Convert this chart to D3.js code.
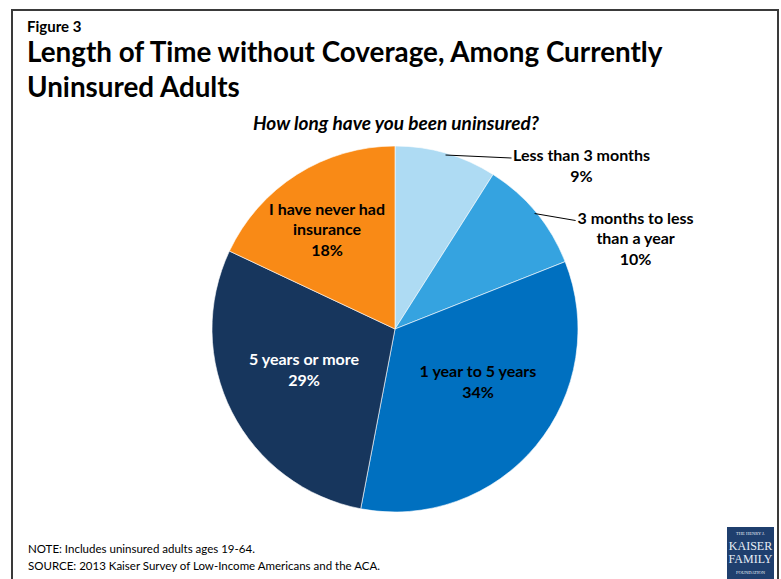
<!DOCTYPE html>
<html>
<head>
<meta charset="utf-8">
<script src="https://cdn.jsdelivr.net/npm/d3@7"></script>
<style>
  html, body { margin: 0; padding: 0; background: #fff; }
  svg { display: block; font-family: Lato, "Open Sans", sans-serif; }
</style>
</head>
<body>
<svg id="chart" width="781" height="579"></svg>
<script>
// Survey answers, clockwise from 12 o'clock
const categories = [
  "Less than 3 months",
  "3 months to less than a year",
  "1 year to 5 years",
  "5 years or more",
  "I have never had insurance"
];
const values = [9, 10, 34, 29, 18];
const colors = ["#AEDBF3", "#35A3E0", "#0070C0", "#17365D", "#F98A16"];
// Label lines as printed (the percentage is appended below them)
const labelLines = [
  ["Less than 3 months"],
  ["3 months to less", "than a year"],
  ["1 year to 5 years"],
  ["5 years or more"],
  ["I have never had", "insurance"]
];

const svg = d3.select("#chart");

// Outer frame
svg.append("rect")
  .attr("x", 12).attr("y", 10)
  .attr("width", 766).attr("height", 580)
  .attr("fill", "none").attr("stroke", "#3a3a3a").attr("stroke-width", 2);

// Headings
svg.append("text").attr("x", 27).attr("y", 32)
  .attr("font-size", 15).attr("font-weight", 700).attr("fill", "#000")
  .text("Figure 3");
svg.append("text").attr("x", 27).attr("y", 62)
  .attr("font-size", 27.8).attr("font-weight", 700).attr("fill", "#000")
  .text("Length of Time without Coverage, Among Currently");
svg.append("text").attr("x", 27).attr("y", 97)
  .attr("font-size", 27.8).attr("font-weight", 700).attr("fill", "#000")
  .text("Uninsured Adults");
svg.append("text").attr("x", 396).attr("y", 130)
  .attr("text-anchor", "middle")
  .attr("font-size", 19).attr("font-weight", 700).attr("font-style", "italic")
  .attr("fill", "#000")
  .text("How long have you been uninsured?");

// Pie
const cx = 395, cy = 329, R = 183;
const data = categories.map((c, i) => ({ cat: c, value: values[i], color: colors[i], lines: labelLines[i], i }));
const pie = d3.pie().sort(null).value(d => d.value);
const arcs = pie(data);
const arc = d3.arc().innerRadius(0).outerRadius(R);

const g = svg.append("g").attr("transform", `translate(${cx},${cy})`);
g.selectAll("path").data(arcs).join("path")
  .attr("d", arc)
  .attr("fill", d => d.data.color)
  .attr("stroke", "#ffffff").attr("stroke-width", 0.6);

const lineH = 20.5;
const labelFont = 16;

function drawLabel(x, y, lines, fill) {
  const t = svg.append("text")
    .attr("text-anchor", "middle")
    .attr("font-size", labelFont).attr("font-weight", 700).attr("fill", fill);
  lines.forEach((s, k) => {
    t.append("tspan").attr("x", x).attr("y", y + k * lineH).text(s);
  });
}

// Inside labels: position along the slice span (0..1) and radius fraction
const insideSpec = {
  2: { at: 0.444, r: 0.539, fill: "#000" },
  3: { at: 0.525, r: 0.546, fill: "#fff" },
  4: { at: 0.466, r: 0.654, fill: "#000" }
};
// Outside labels: leader start along the span, leader run, text centre offset
const outsideSpec = {
  0: { at: 0.5, dx: 66, dy: 3, tx: 70 },
  1: { at: 0.5, dx: 41, dy: 7, tx: 60 }
};

arcs.forEach(a => {
  const d = a.data;
  const lines = d.lines.concat([d.value + "%"]);
  if (insideSpec[d.i]) {
    const spec = insideSpec[d.i];
    const ang = a.startAngle + (a.endAngle - a.startAngle) * spec.at;
    const x = cx + Math.sin(ang) * R * spec.r;
    const y = cy - Math.cos(ang) * R * spec.r;
    const top = y - (lines.length - 1) * lineH / 2 + 5;
    drawLabel(x, top, lines, spec.fill);
  } else {
    const spec = outsideSpec[d.i];
    const ang = a.startAngle + (a.endAngle - a.startAngle) * spec.at;
    const r0 = R * 0.99;
    const x0 = cx + Math.sin(ang) * r0, y0 = cy - Math.cos(ang) * r0;
    const x1 = x0 + spec.dx, y1 = y0 + spec.dy;
    svg.append("line")
      .attr("x1", x0).attr("y1", y0).attr("x2", x1).attr("y2", y1)
      .attr("stroke", "#000").attr("stroke-width", 1);
    drawLabel(x1 + spec.tx, y1 + 3, lines, "#000");
  }
});

// Notes
svg.append("text").attr("x", 28).attr("y", 553)
  .attr("font-size", 11.5).attr("fill", "#000")
  .text("NOTE: Includes uninsured adults ages 19-64.");
svg.append("text").attr("x", 28).attr("y", 570)
  .attr("font-size", 11.5).attr("fill", "#000")
  .text("SOURCE: 2013 Kaiser Survey of Low-Income Americans and the ACA.");

// Foundation mark
const logo = svg.append("g").attr("transform", "translate(727,527)");
logo.append("rect").attr("width", 47).attr("height", 52).attr("fill", "#1F3F6E");
const logoText = [
  { t: "THE HENRY J.", y: 8, s: 4.5 },
  { t: "KAISER", y: 23, s: 12 },
  { t: "FAMILY", y: 36, s: 12 },
  { t: "FOUNDATION", y: 47, s: 4.5 }
];
logo.selectAll("text").data(logoText).join("text")
  .attr("x", 23.5).attr("y", d => d.y)
  .attr("text-anchor", "middle")
  .attr("font-family", "'Liberation Serif', serif")
  .attr("font-size", d => d.s)
  .attr("fill", "#e8eef6")
  .text(d => d.t);
</script>
</body>
</html>
